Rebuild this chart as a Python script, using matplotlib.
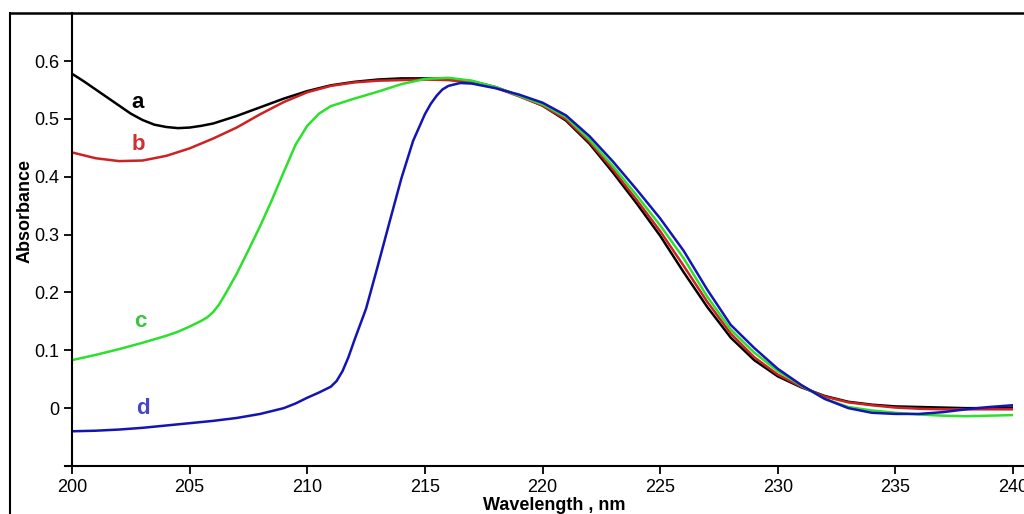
import numpy as np
import matplotlib.pyplot as plt
from matplotlib.lines import Line2D

plt.rcParams['font.family'] = ['Liberation Sans', 'DejaVu Sans']

# spectrum a (black)
wl_a = [200, 200.5, 201, 201.5, 202, 202.5, 203, 203.5, 204, 204.5, 205, 205.5, 206, 207, 208, 209,
        210, 211, 212, 213, 214, 215, 216, 217, 218, 219, 220, 221, 222, 223, 224, 225, 226, 227,
        228, 229, 230, 231, 232, 233, 234, 235, 236, 237, 238, 239, 240]
abs_a = [0.578, 0.565, 0.551, 0.537, 0.523, 0.509, 0.498, 0.490, 0.486, 0.484, 0.485, 0.488, 0.492,
         0.505, 0.520, 0.535, 0.548, 0.558, 0.564, 0.568, 0.570, 0.570, 0.569, 0.565, 0.555, 0.540,
         0.523, 0.497, 0.457, 0.407, 0.354, 0.298, 0.235, 0.175, 0.122, 0.083, 0.055, 0.036, 0.021,
         0.011, 0.006, 0.003, 0.002, 0.001, 0.000, 0.000, 0.001]

# spectrum b (red)
wl_b = [200, 201, 202, 203, 204, 205, 206, 207, 208, 209, 210, 211, 212, 213, 214, 215, 216, 217,
        218, 219, 220, 221, 222, 223, 224, 225, 226, 227, 228, 229, 230, 231, 232, 233, 234, 235,
        236, 237, 238, 239, 240]
abs_b = [0.442, 0.432, 0.427, 0.428, 0.436, 0.449, 0.466, 0.485, 0.508, 0.529, 0.546, 0.557, 0.563,
         0.566, 0.567, 0.568, 0.567, 0.563, 0.554, 0.539, 0.523, 0.499, 0.460, 0.412, 0.360, 0.306,
         0.246, 0.184, 0.129, 0.088, 0.058, 0.037, 0.020, 0.010, 0.005, 0.001, -0.001, -0.002,
         -0.002, -0.002, -0.002]

# spectrum c (green)
wl_c = [200, 201, 202, 203, 204, 204.5, 205, 205.5, 205.75, 206, 206.25, 206.5, 207, 207.5, 208,
        208.5, 209, 209.5, 210, 210.5, 211, 212, 213, 214, 215, 216, 217, 218, 219, 220, 221, 222,
        223, 224, 225, 226, 227, 228, 229, 230, 231, 232, 233, 234, 235, 236, 237, 238, 239, 240]
abs_c = [0.083, 0.092, 0.102, 0.113, 0.125, 0.132, 0.141, 0.151, 0.157, 0.166, 0.179, 0.196, 0.232,
         0.273, 0.315, 0.360, 0.408, 0.455, 0.488, 0.509, 0.522, 0.535, 0.547, 0.560, 0.569, 0.571,
         0.566, 0.555, 0.540, 0.525, 0.503, 0.464, 0.418, 0.368, 0.316, 0.259, 0.193, 0.136, 0.096,
         0.064, 0.039, 0.016, 0.002, -0.004, -0.008, -0.011, -0.013, -0.014, -0.013, -0.012]

# spectrum d (blue)
wl_d = [200, 201, 202, 203, 204, 205, 206, 207, 208, 209, 209.5, 210, 210.5, 211, 211.25, 211.5,
        211.75, 212, 212.5, 213, 213.5, 214, 214.5, 215, 215.25, 215.5, 215.75, 216, 216.5, 217,
        218, 219, 220, 221, 222, 223, 224, 225, 226, 227, 228, 229, 230, 231, 232, 233, 234, 235,
        236, 237, 238, 239, 240]
abs_d = [-0.040, -0.039, -0.037, -0.034, -0.030, -0.026, -0.022, -0.017, -0.010, 0.000, 0.008,
         0.018, 0.027, 0.037, 0.047, 0.064, 0.088, 0.117, 0.172, 0.246, 0.322, 0.397, 0.462, 0.508,
         0.526, 0.540, 0.551, 0.557, 0.562, 0.561, 0.553, 0.542, 0.528, 0.506, 0.470, 0.426, 0.378,
         0.328, 0.272, 0.205, 0.144, 0.104, 0.068, 0.040, 0.016, 0.000, -0.008, -0.010, -0.010,
         -0.007, -0.002, 0.002, 0.005]

y_ticks = [-0.1, 0, 0.1, 0.2, 0.3, 0.4, 0.5, 0.6]
y_tick_labels = ['', '0', '0.1', '0.2', '0.3', '0.4', '0.5', '0.6']
x_ticks = [200, 205, 210, 215, 220, 225, 230, 235, 240]

fig = plt.figure(figsize=(10.24, 5.14), dpi=100)
ax = fig.add_axes([72 / 1024, 1 - 466 / 514, (1013 - 72) / 1024, (466 - 13) / 514])

ax.plot(wl_a, abs_a, color='black', lw=1.8)
ax.plot(wl_b, abs_b, color='#cc2222', lw=1.8)
ax.plot(wl_c, abs_c, color='#2ee02e', lw=1.8)
ax.plot(wl_d, abs_d, color='#1414b4', lw=1.8)

# curve letters
ax.text(202.8, 0.528, 'a', color='black', fontsize=16, fontweight='bold', ha='center', va='center')
ax.text(202.8, 0.455, 'b', color='#d03030', fontsize=16, fontweight='bold', ha='center', va='center')
ax.text(202.9, 0.149, 'c', color='#3cc43c', fontsize=16, fontweight='bold', ha='center', va='center')
ax.text(203.0, 0.000, 'd', color='#4646c8', fontsize=16, fontweight='bold', ha='center', va='center')

ax.set_xlim(200, 240)
ax.set_ylim(-0.1, 0.683)
ax.set_xticks(x_ticks)
ax.set_yticks(y_ticks)
ax.set_yticklabels(y_tick_labels)
ax.tick_params(labelsize=13, width=1.3, length=6, direction='out', pad=3)
ax.spines['top'].set_visible(False)
ax.spines['right'].set_visible(False)
ax.spines['left'].set_linewidth(1.5)
ax.spines['bottom'].set_linewidth(1.5)
ax.spines['bottom'].set_bounds(199.7, 240.5)

fig.text(554 / 1024, 1 - 506 / 514, 'Wavelength , nm', fontsize=13, fontweight='bold',
         ha='center', va='center')
fig.text(25 / 1024, 1 - 211 / 514, 'Absorbance', fontsize=13, fontweight='bold',
         rotation=90, ha='center', va='center')

# outer frame (top and left edges only)
fig.add_artist(Line2D([10 / 1024, 1.0], [1 - 13 / 514, 1 - 13 / 514], color='black', lw=1.8))
fig.add_artist(Line2D([10 / 1024, 10 / 1024], [1 - 13 / 514, 0.0], color='black', lw=1.5))

fig.savefig('out.png', dpi=100)
plt.close()
